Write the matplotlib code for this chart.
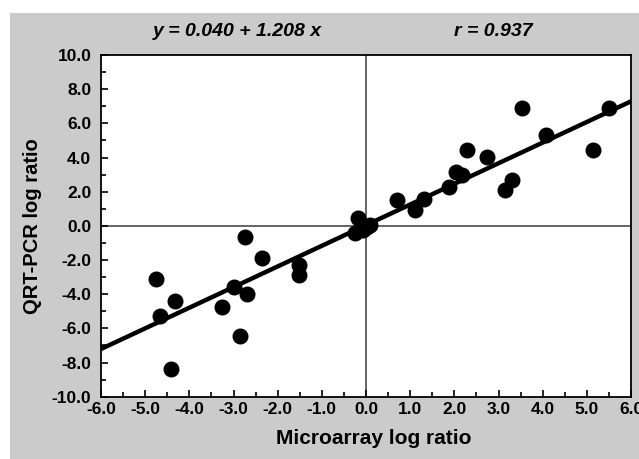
"""QRT-PCR vs microarray log ratios with regression line"""
import numpy as np
import matplotlib.pyplot as plt
from matplotlib.patches import Rectangle
from matplotlib.ticker import MultipleLocator, FormatStrFormatter

plt.rcParams['font.family'] = ['Liberation Sans', 'DejaVu Sans']

# data
microarray = [-4.76, -4.66, -4.32, -4.42, -3.25, -3.00, -2.85, -2.74, -2.69,
              -2.35, -1.52, -1.52, -0.17, -0.25, -0.06, 0.02, 0.09,
              0.71, 1.11, 1.31, 1.89, 2.03, 2.17, 2.28, 2.73, 3.14, 3.31,
              3.54, 4.07, 5.13, 5.50]
qrtpcr = [-3.13, -5.26, -4.40, -8.40, -4.74, -3.60, -6.45, -0.67, -3.99,
          -1.90, -2.30, -2.88, 0.44, -0.44, -0.25, -0.05, 0.05,
          1.51, 0.93, 1.57, 2.25, 3.17, 2.97, 4.44, 4.05, 2.10, 2.68,
          6.88, 5.32, 4.44, 6.88]
intercept = 0.040
slope = 1.208
r_value = 0.937

fig = plt.figure(figsize=(6.39, 4.59), dpi=100)
# gray panel behind everything
panel = Rectangle((10/639, 0), 1, 1 - 13/459, transform=fig.transFigure,
                  facecolor='#cbcbcb', edgecolor='none', zorder=-10)
fig.add_artist(panel)
ax = fig.add_axes([101/639, 62.3/459, 530/639, 341.7/459])
ax.set_zorder(1)
ax.set_facecolor('white')

# zero lines
ax.axhline(0, color='#3a3a3a', lw=1.1, zorder=1)
ax.axvline(0, color='#3a3a3a', lw=1.1, zorder=1)

# regression line
xs = np.array([-6.0, 6.0])
ax.plot(xs, intercept + slope*xs, color='black', lw=3.2, zorder=2)

ax.plot(microarray, qrtpcr, 'o', color='black', markersize=10.5, zorder=3)

ax.set_xlim(-6, 6)
ax.set_ylim(-10, 10)
ax.xaxis.set_major_locator(MultipleLocator(1))
ax.xaxis.set_minor_locator(MultipleLocator(0.5))
ax.yaxis.set_major_locator(MultipleLocator(2))
ax.yaxis.set_minor_locator(MultipleLocator(1))
ax.xaxis.set_major_formatter(FormatStrFormatter('%.1f'))
ax.yaxis.set_major_formatter(FormatStrFormatter('%.1f'))
ax.tick_params(which='both', direction='in', top=False, right=False,
               width=1.2, labelsize=12.5)
ax.tick_params(which='major', length=5)
ax.tick_params(which='minor', length=3.5)
ax.tick_params(axis='y', pad=7)
ax.tick_params(axis='x', pad=4)
for lab in ax.get_xticklabels() + ax.get_yticklabels():
    lab.set_fontweight('bold')
for s in ax.spines.values():
    s.set_linewidth(1.3)

ax.set_xlabel("Microarray log ratio", fontsize=15, weight='bold', va='center')
ax.xaxis.set_label_coords(0.515, -0.121)
ax.set_ylabel("QRT-PCR log ratio", fontsize=14.5, weight='bold', va='center')
ax.yaxis.set_label_coords(-0.130, 0.5)

fig.text(237/639, 1 - 31/459, "y = %.3f + %.3f x" % (intercept, slope),
         ha='center', va='center', fontsize=14, style='italic', weight='bold')
fig.text(493/639, 1 - 31/459, "r = %.3f" % r_value,
         ha='center', va='center', fontsize=14, style='italic', weight='bold')

plt.savefig("out.png", dpi=100)
